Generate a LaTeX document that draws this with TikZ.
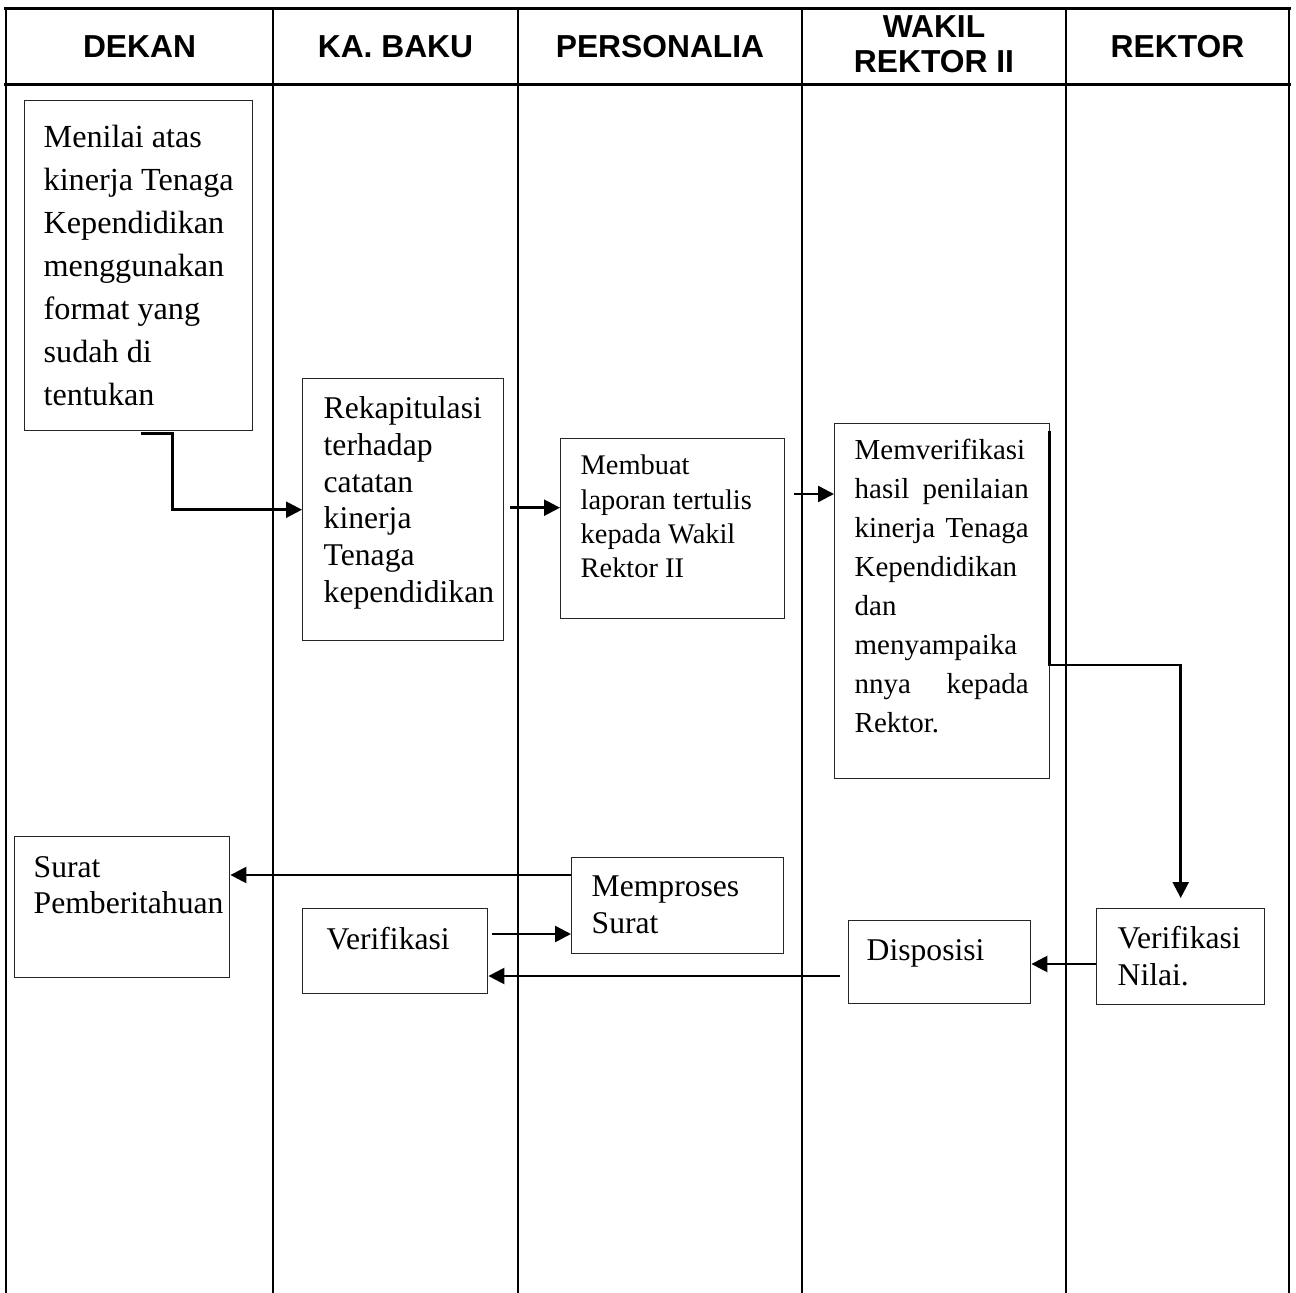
\documentclass[tikz,border=0pt]{standalone}
\usepackage{fontspec}
\setmainfont{Liberation Serif}
\newfontfamily\headfont{Liberation Sans}
\usetikzlibrary{arrows.meta}

\newlength{\px}
\setlength{\px}{0.25mm}
% width, left pad, height, text width, top pad, text
\newcommand{\boxtxt}[6]{\makebox[#1\px][l]{\hspace*{#2\px}\parbox[c][#3\px][t]{#4\px}{\raggedright\vspace*{#5\px}\strut #6}}}

\begin{document}
\begin{tikzpicture}[x=0.25mm, y=-0.25mm,
                    lane/.style={line width=0.5mm},
                    frameline/.style={line width=0.75mm},
                    head/.style={font=\headfont\bfseries\fontsize{22.6}{24.9}\selectfont, align=center},
                    stepbox/.style={draw=black!85, line width=0.35mm, inner sep=0pt, anchor=north west, font=\fontsize{22.5}{26.3}\selectfont},
                    flow/.style={line width=0.62mm, -{Triangle[length=4mm, width=4mm]}},]
    \useasboundingbox (0,0) rectangle (1296,1293);
    % lanes
    \draw[frameline] (4,8) -- (1291,8);
    \draw[frameline] (4,84) -- (1291,84);
    \foreach \x in {6,273,518,802,1066,1289}
        \draw[lane] (\x,8) -- (\x,1293);
    \node[head] (dekan)      at (139.5,46.5) {DEKAN};
    \node[head] (baku)       at (395.5,46.5) {KA. BAKU};
    \node[head] (personalia) at (660,46.5)   {PERSONALIA};
    \node[head] (wakil)      at (934,44)     {WAKIL\\REKTOR II};
    \node[head] (rektor)     at (1177.5,46.5) {REKTOR};
    % nodes
    \node[stepbox, font=\fontsize{22.9}{30.6}\selectfont] (nilai) at (24,100)
        {\boxtxt{228}{19}{330}{205}{17}{Menilai atas\\kinerja Tenaga\\Kependidikan\\menggunakan\\format yang\\sudah di\\tentukan}};
    \node[stepbox, font=\fontsize{22.5}{26.2}\selectfont] (rekap) at (302,378)
        {\boxtxt{201}{21}{262}{178}{14}{Rekapitulasi\\terhadap\\catatan\\kinerja\\Tenaga\\kependidikan}};
    \node[stepbox, font=\fontsize{20.2}{24.4}\selectfont] (laporan) at (560,438)
        {\boxtxt{224}{20}{180}{200}{12}{Membuat\\laporan tertulis\\kepada Wakil\\Rektor II}};
    \node[stepbox, font=\fontsize{20.6}{27.7}\selectfont] (periksa) at (834,423)
        {\boxtxt{215}{20}{355}{174}{9}{Memverifikasi\\hasil\hfill penilaian\\kinerja\hfill Tenaga\\Kependidikan\\dan\\menyampaika\\nnya\hfill kepada\\Rektor.}};
    \node[stepbox, font=\fontsize{22.5}{25.6}\selectfont] (surat) at (14,836)
        {\boxtxt{215}{19}{141}{195}{16}{Surat\\Pemberitahuan}};
    \node[stepbox] (cek) at (302,908)
        {\boxtxt{185}{24}{85}{158}{15}{Verifikasi}};
    \node[stepbox] (proses) at (571,857)
        {\boxtxt{212}{20}{96}{190}{13}{Memproses\\Surat}};
    \node[stepbox] (disposisi) at (848,920)
        {\boxtxt{182}{18}{83}{160}{14}{Disposisi}};
    \node[stepbox] (ceknilai) at (1096,908)
        {\boxtxt{168}{21}{96}{145}{14}{Verifikasi\\Nilai.}};
    % lines
    \coordinate (s1) at ([shift={(2,2)}]nilai.south);
    \coordinate (s2) at ([shift={(6,-2)}]rekap.east);
    \coordinate (s3) at ([shift={(9,56)}]laporan.north east);
    \coordinate (s4) at ([shift={(-1,8)}]periksa.north east);
    \coordinate (s9) at ([shift={(0,56)}]ceknilai.north west);
    \coordinate (s8) at ([shift={(-8,56)}]disposisi.north west);
    \coordinate (s6) at ([shift={(4,26)}]cek.north east);
    \coordinate (s7) at ([shift={(0,18)}]proses.north west);
    \draw[flow] (s1) -- ++(32,0) |- (rekap.west);
    \draw[flow] (s2) -- (s2 -| laporan.west);
    \draw[flow] (s3) -- (s3 -| periksa.west);
    \draw[flow, shorten >=2.5mm] (s4) -- ++(0,234) -| (ceknilai.north);
    \draw[flow] (s9) -- (s9 -| disposisi.east);
    \draw[flow] (s8) -- (s8 -| cek.east);
    \draw[flow] (s6) -- (s6 -| proses.west);
    \draw[flow] (s7) -- (s7 -| surat.east);
\end{tikzpicture}
\end{document}
